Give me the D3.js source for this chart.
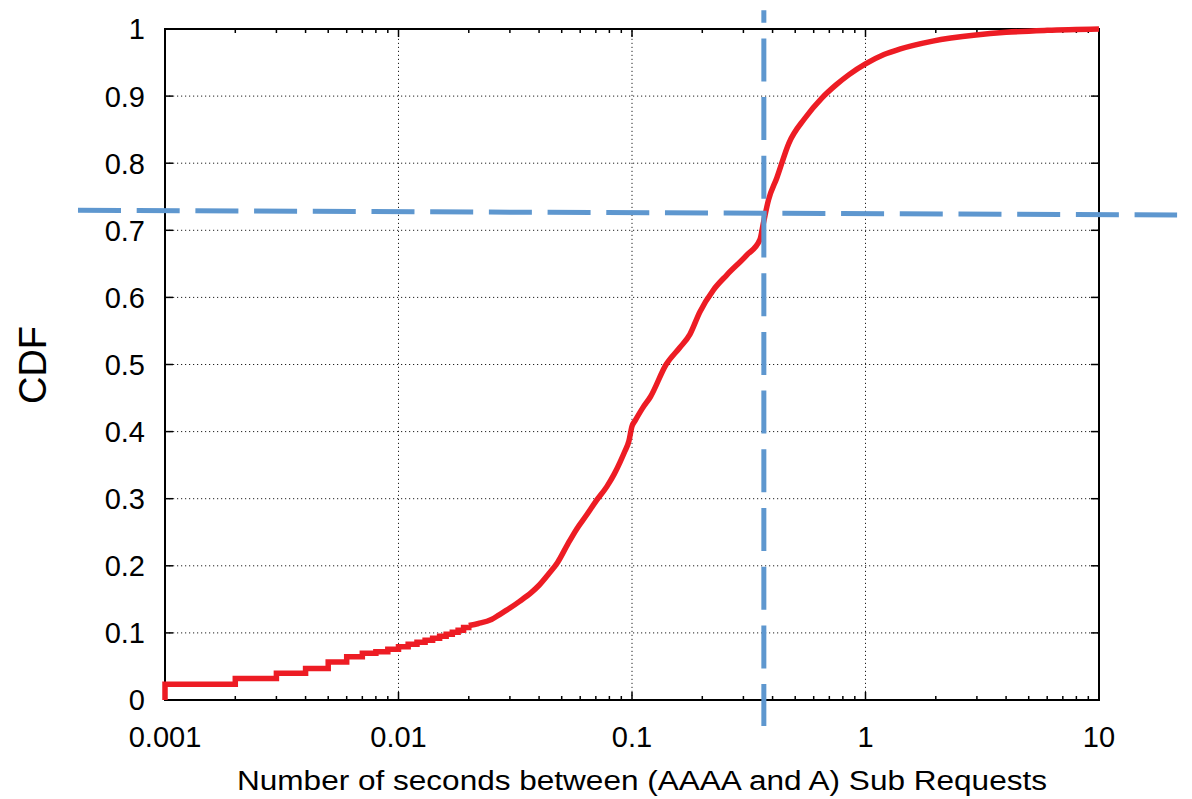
<!DOCTYPE html>
<html>
<head>
<meta charset="utf-8">
<script src="https://cdn.jsdelivr.net/npm/d3@7"></script>
<style>
  html, body { margin: 0; padding: 0; background: #fff; }
  svg text { font-family: "Liberation Sans", Arial, Helvetica, sans-serif; fill: #000; }
</style>
</head>
<body>
<div id="chart"></div>
<script>
// CDF of delay between AAAA and A sub requests (log x axis)

// discrete part, millisecond resolution (drawn as steps)
const stepX = [0.001, 0.001, 0.002, 0.003, 0.004, 0.005, 0.006, 0.007, 0.008, 0.009, 0.010,
  0.011, 0.012, 0.013, 0.014, 0.015, 0.016, 0.017, 0.018, 0.019, 0.020];
const stepY = [0, 0.0234, 0.032, 0.040, 0.047, 0.0566, 0.0646, 0.0696, 0.072, 0.0755, 0.0795,
  0.083, 0.086, 0.089, 0.092, 0.095, 0.098, 0.101, 0.104, 0.108, 0.111];

// continuous part
const curveX = [0.020, 0.022, 0.025, 0.027, 0.030, 0.033, 0.037, 0.040, 0.044, 0.048, 0.053,
  0.058, 0.064, 0.070, 0.078, 0.084, 0.089, 0.093, 0.097, 0.100, 0.103, 0.111, 0.120, 0.140,
  0.160, 0.177, 0.195, 0.223, 0.254, 0.310, 0.353, 0.365, 0.384, 0.417, 0.470, 0.550, 0.650,
  0.750, 0.850, 1.0, 1.2, 1.4, 1.94, 2.97, 4.0, 6.0, 10.0];
const curveY = [0.111, 0.114, 0.120, 0.127, 0.137, 0.147, 0.160, 0.171, 0.188, 0.205, 0.232,
  0.255, 0.276, 0.296, 0.318, 0.337, 0.355, 0.370, 0.386, 0.408, 0.416, 0.435, 0.452, 0.500,
  0.525, 0.545, 0.578, 0.611, 0.633, 0.663, 0.686, 0.710, 0.745, 0.778, 0.830, 0.867, 0.897,
  0.917, 0.932, 0.948, 0.962, 0.970, 0.982, 0.991, 0.995, 0.998, 1.0];

const xTicks = [0.001, 0.01, 0.1, 1, 10];
const xTickLabels = ['0.001', '0.01', '0.1', '1', '10'];
const yTicks = [0, 0.1, 0.2, 0.3, 0.4, 0.5, 0.6, 0.7, 0.8, 0.9, 1];
const yTickLabels = ['0', '0.1', '0.2', '0.3', '0.4', '0.5', '0.6', '0.7', '0.8', '0.9', '1'];

// hand-drawn marker lines (data coords)
const markX = 0.367;             // vertical line
const markXRange = [1.028, -0.0387];
const markYLeft = 0.7298, markYRight = 0.7228;  // horizontal line, slightly tilted
const markYRange = [0.000424, 21.6];

const W = 1192, H = 799;
const margin = { top: 29, right: 93, bottom: 99, left: 165 };

const svg = d3.select('#chart').append('svg')
  .attr('width', W)
  .attr('height', H);

const x = d3.scaleLog().domain([0.001, 10]).range([margin.left, W - margin.right]);
const y = d3.scaleLinear().domain([0, 1]).range([H - margin.bottom, margin.top]);

const x0 = x.range()[0], x1 = x.range()[1];
const y0 = y.range()[0], y1 = y.range()[1];

// grid
const grid = svg.append('g');
grid.selectAll('line.gx')
  .data(xTicks.slice(1, -1)).join('line')
  .attr('x1', d => x(d)).attr('x2', d => x(d))
  .attr('y1', y0).attr('y2', y1)
  .attr('stroke', '#222').attr('stroke-width', 1).attr('stroke-dasharray', '1.2,2.8');
grid.selectAll('line.gy')
  .data(yTicks.slice(1, -1)).join('line')
  .attr('y1', d => y(d)).attr('y2', d => y(d))
  .attr('x1', x0).attr('x2', x1)
  .attr('stroke', '#222').attr('stroke-width', 1).attr('stroke-dasharray', '1.2,2.8');

// minor / major ticks pointing inward
const minor = [];
for (let e = -3; e < 1; e++) for (let m = 2; m <= 9; m++) minor.push(m * Math.pow(10, e));

const ticks = svg.append('g').attr('stroke', '#000').attr('stroke-width', 1.5);
minor.forEach(v => {
  ticks.append('line').attr('x1', x(v)).attr('x2', x(v)).attr('y1', y0).attr('y2', y0 - 4);
  ticks.append('line').attr('x1', x(v)).attr('x2', x(v)).attr('y1', y1).attr('y2', y1 + 4);
});
xTicks.forEach(v => {
  ticks.append('line').attr('x1', x(v)).attr('x2', x(v)).attr('y1', y0).attr('y2', y0 - 8);
  ticks.append('line').attr('x1', x(v)).attr('x2', x(v)).attr('y1', y1).attr('y2', y1 + 8);
});
yTicks.forEach(v => {
  ticks.append('line').attr('y1', y(v)).attr('y2', y(v)).attr('x1', x0).attr('x2', x0 + 8);
  ticks.append('line').attr('y1', y(v)).attr('y2', y(v)).attr('x1', x1).attr('x2', x1 - 8);
});

// frame
svg.append('rect')
  .attr('x', x0).attr('y', y1)
  .attr('width', x1 - x0).attr('height', y0 - y1)
  .attr('fill', 'none').attr('stroke', '#000').attr('stroke-width', 2);

// tick labels
svg.append('g').selectAll('text')
  .data(xTicks).join('text')
  .attr('x', d => x(d))
  .attr('y', 747)
  .attr('text-anchor', 'middle')
  .attr('font-size', 29)
  .text((d, i) => xTickLabels[i]);

svg.append('g').selectAll('text')
  .data(yTicks).join('text')
  .attr('x', 145)
  .attr('y', d => y(d))
  .attr('dy', '0.36em')
  .attr('text-anchor', 'end')
  .attr('font-size', 29)
  .text((d, i) => yTickLabels[i]);

// axis titles
svg.append('text')
  .attr('x', 642).attr('y', 790)
  .attr('text-anchor', 'middle')
  .attr('font-size', 27)
  .attr('textLength', 810)
  .attr('lengthAdjust', 'spacingAndGlyphs')
  .text('Number of seconds between (AAAA and A) Sub Requests');

svg.append('text')
  .attr('transform', 'translate(46,365) rotate(-90)')
  .attr('text-anchor', 'middle')
  .attr('font-size', 38)
  .text('CDF');

// CDF curve
const stepLine = d3.line().curve(d3.curveStepAfter)
  .x(d => x(d[0])).y(d => y(d[1]));
const smoothLine = d3.line().curve(d3.curveMonotoneX)
  .x(d => x(d[0])).y(d => y(d[1]));

const curve = svg.append('g')
  .attr('fill', 'none')
  .attr('stroke', '#ed1c24')
  .attr('stroke-width', 5.5);
curve.append('path')
  .attr('stroke-linejoin', 'miter')
  .attr('d', stepLine(stepX.map((v, i) => [v, stepY[i]])));
curve.append('path')
  .attr('stroke-linejoin', 'round')
  .attr('d', smoothLine(curveX.map((v, i) => [v, curveY[i]])));

// blue dashed marker lines
const mark = svg.append('g')
  .attr('stroke', '#5e97cf')
  .attr('stroke-width', 5)
  .attr('stroke-dasharray', '43,15.7');
mark.append('line')
  .attr('x1', x(markX)).attr('x2', x(markX))
  .attr('y1', y(markXRange[0])).attr('y2', y(markXRange[1]))
  .attr('stroke-dashoffset', 30.5);
mark.append('line')
  .attr('x1', x(markYRange[0])).attr('x2', x(markYRange[1]))
  .attr('y1', y(markYLeft)).attr('y2', y(markYRight));
</script>
</body>
</html>
